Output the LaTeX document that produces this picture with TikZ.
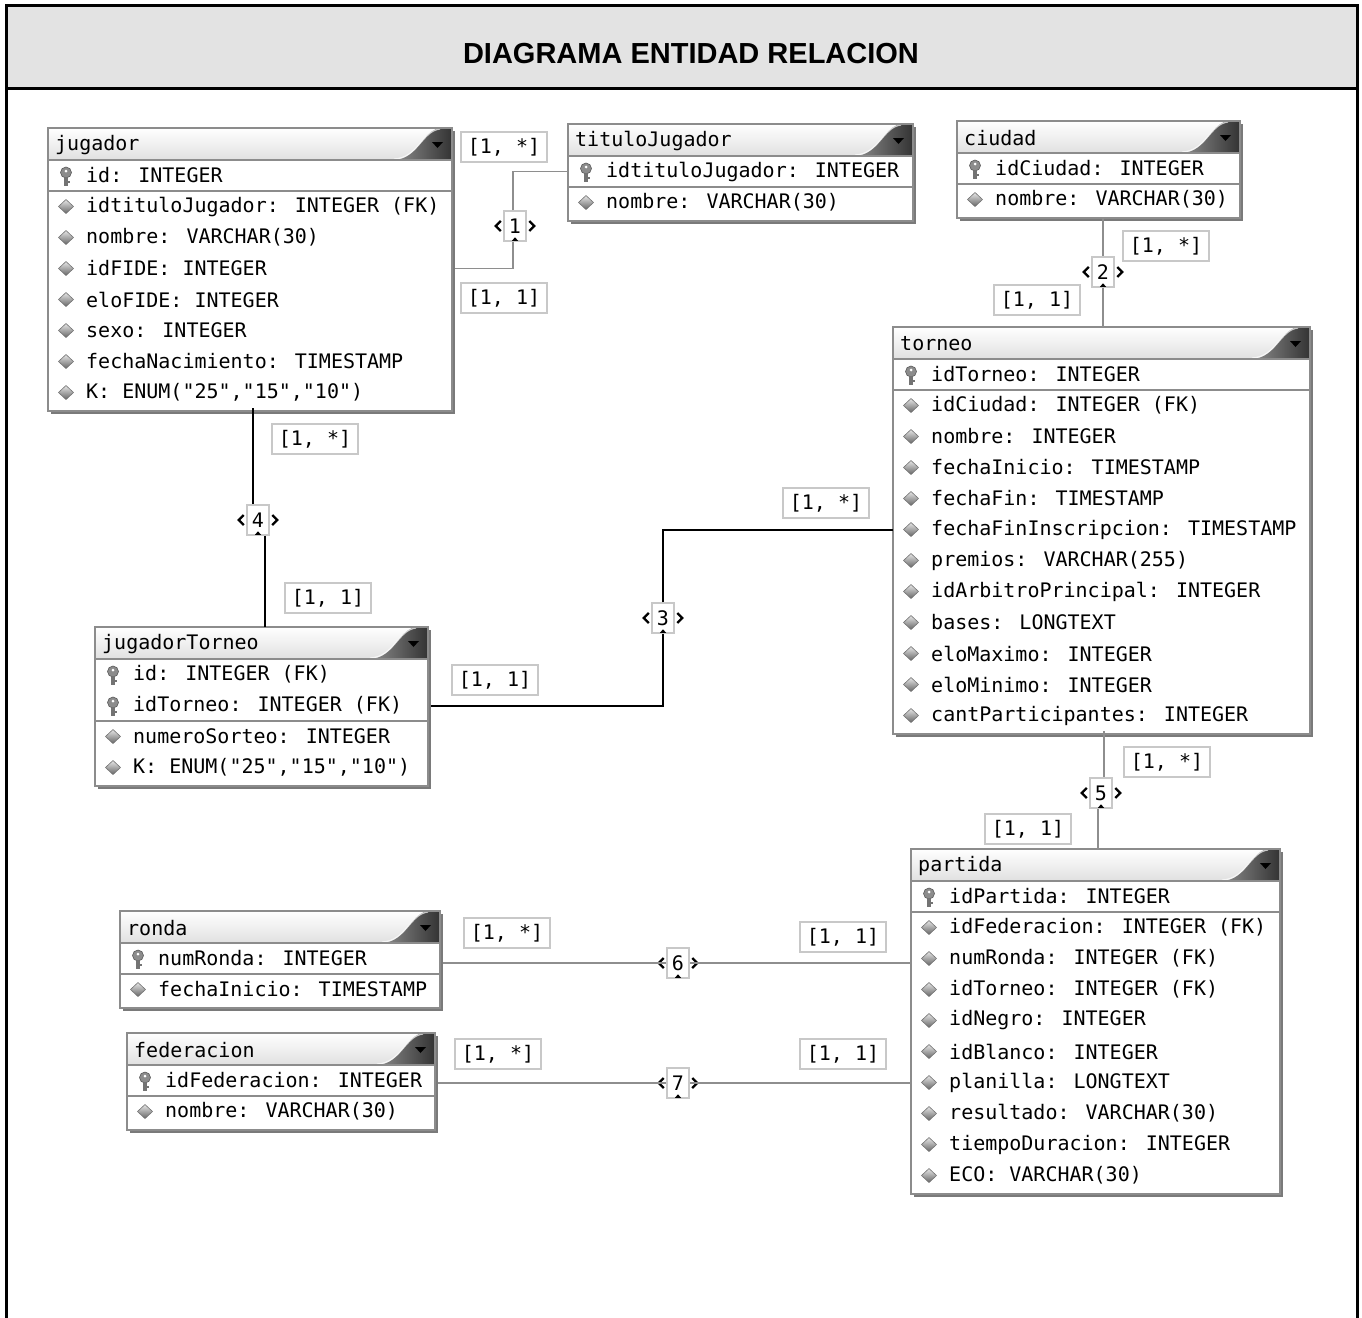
\documentclass[tikz,border=0pt]{standalone}
\usepackage{fontspec}
\setmainfont{Liberation Sans}
\newfontfamily\erfont{DejaVu Sans Mono}
\usetikzlibrary{calc}

\definecolor{framehead}{HTML}{E3E3E3}
\definecolor{tblborder}{HTML}{8C8C8C}
\definecolor{tblshadow}{HTML}{7A7A7A}
\definecolor{lblborder}{HTML}{C8C8C8}
\definecolor{relgray}{HTML}{8E8E8E}

\tikzset{
  erfontsty/.style={font=\erfont\fontsize{20}{24}\selectfont},
  cardbox/.style={erfontsty, draw=lblborder, line width=1.5pt, fill=white,
    minimum width=86pt, minimum height=30pt, inner sep=0pt},
  markbox/.style={erfontsty, draw=lblborder, line width=1.5pt, fill=white,
    minimum width=22pt, minimum height=30pt, inner sep=0pt},
  chev/.style={black, line width=2.2pt},
  relthin/.style={relgray, line width=1.5pt},
  relthick/.style={black, line width=2pt},
}

% #1 name, #2 left, #3 top, #4 width, #5 key rows, #6 rows, #7 title, #8 row texts
\newcommand\ertable[8]{%
  \pgfmathsetmacro\tbot{#3+32+31*#6+3}
  \fill[tblshadow] (#2+3,#3+3) rectangle (#2+#4+3,\tbot+3);
  \node[fill=white, minimum width=#4pt, minimum height={\tbot-#3}, inner sep=0pt,
        anchor=north west] (#1) at (#2,#3) {};
  \shade[top color=white, bottom color=black!12] (#2,#3) rectangle (#2+#4,#3+32);
  \shade[left color=black!45, right color=black!80]
    (#2+#4-58,#3+32) .. controls (#2+#4-34,#3+31) and (#2+#4-30,#3+3) .. (#2+#4-12,#3)
    -- (#2+#4,#3) -- (#2+#4,#3+32) -- cycle;
  \draw[white, line width=1.2pt, opacity=.7]
    (#2+#4-58,#3+31) .. controls (#2+#4-34,#3+30) and (#2+#4-30,#3+3) .. (#2+#4-12,#3+1);
  \fill[black] (#2+#4-20,#3+14) -- ++(11,0) -- ++(-5.5,6) -- cycle;
  \node[erfontsty, anchor=west, inner sep=0pt] (#1-title) at (#2+7,#3+17) {#7};
  \draw[tblborder, line width=1.2pt] (#2,#3+32) -- (#2+#4,#3+32);
  \draw[tblborder, line width=1.2pt] (#2,#3+32+31*#5) -- (#2+#4,#3+32+31*#5);
  \foreach \rowtext [count=\i from 0] in {#8} {
    \pgfmathsetmacro\yy{#3+32+15.5+31*\i}
    \coordinate (#1-\i) at (#2,\yy);
    \ifnum\i<#5\relax
      % key icon
      \fill[black!45, draw=black!65, line width=.6pt]
        (#2+18,\yy-3) ellipse (5.5pt and 5.5pt);
      \fill[white] (#2+18,\yy-4.5) circle (1.5pt);
      \fill[black!55] (#2+16.3,\yy+2) rectangle (#2+19.7,\yy+10);
      \fill[black!55] (#2+19.7,\yy+5.5) rectangle (#2+22,\yy+7);
    \else
      % attribute icon
      \shade[top color=black!10, bottom color=black!60, draw=black!55, line width=.6pt]
        (#2+10.5,\yy) -- (#2+18,\yy-7) -- (#2+25.5,\yy) -- (#2+18,\yy+7) -- cycle;
    \fi
    \node[erfontsty, anchor=west, inner sep=0pt] at (#2+38,\yy) {\rowtext};
  }
  \draw[tblborder, line width=1.5pt] (#2,#3) rectangle (#2+#4,\tbot);
}

% relationship marker: name, x, y, number
\newcommand\relmark[4]{%
  \node[markbox] (#1) at (#2,#3) {#4};
  \draw[chev] ($(#1.west)+(-2.5pt,-5pt)$) -- ++(-5pt,5pt) -- ++(5pt,5pt);
  \draw[chev] ($(#1.east)+(2.5pt,-5pt)$) -- ++(5pt,5pt) -- ++(-5pt,5pt);
  \fill[black] ($(#1.south)+(-3pt,1pt)$) -- ++(6pt,0) -- ++(-3pt,3.5pt) -- cycle;
}

\begin{document}
\begin{tikzpicture}[x=1pt,y=-1pt]
\useasboundingbox (0,0) rectangle (1362,1317);

% frame and heading
\fill[framehead] (6,5) rectangle (1357,88);
\draw[black, line width=3pt] (6,1325) -- (6,5) -- (1357,5) -- (1357,1325);
\draw[black, line width=3pt] (6,88) -- (1357,88);
\node[font=\bfseries\fontsize{29}{34}\selectfont] (title) at (691,54) {DIAGRAMA ENTIDAD RELACION};

% entities
\ertable{jugador}{48}{128}{404}{1}{8}{jugador}{%
  {id: INTEGER},{idtituloJugador: INTEGER (FK)},{nombre: VARCHAR(30)},
  {idFIDE: INTEGER},{eloFIDE: INTEGER},{sexo: INTEGER},
  {fechaNacimiento: TIMESTAMP},{K: ENUM("25","15","10")}}
\ertable{tituloJugador}{568}{124}{345}{1}{2}{tituloJugador}{%
  {idtituloJugador: INTEGER},{nombre: VARCHAR(30)}}
\ertable{ciudad}{957}{121}{283}{1}{2}{ciudad}{%
  {idCiudad: INTEGER},{nombre: VARCHAR(30)}}
\ertable{torneo}{893}{327}{417}{1}{12}{torneo}{%
  {idTorneo: INTEGER},{idCiudad: INTEGER (FK)},{nombre: INTEGER},
  {fechaInicio: TIMESTAMP},{fechaFin: TIMESTAMP},{fechaFinInscripcion: TIMESTAMP},
  {premios: VARCHAR(255)},{idArbitroPrincipal: INTEGER},{bases: LONGTEXT},
  {eloMaximo: INTEGER},{eloMinimo: INTEGER},{cantParticipantes: INTEGER}}
\ertable{jugadorTorneo}{95}{627}{333}{2}{4}{jugadorTorneo}{%
  {id: INTEGER (FK)},{idTorneo: INTEGER (FK)},{numeroSorteo: INTEGER},
  {K: ENUM("25","15","10")}}
\ertable{ronda}{120}{911}{320}{1}{2}{ronda}{%
  {numRonda: INTEGER},{fechaInicio: TIMESTAMP}}
\ertable{federacion}{127}{1033}{308}{1}{2}{federacion}{%
  {idFederacion: INTEGER},{nombre: VARCHAR(30)}}
\ertable{partida}{911}{849}{369}{1}{10}{partida}{%
  {idPartida: INTEGER},{idFederacion: INTEGER (FK)},{numRonda: INTEGER (FK)},
  {idTorneo: INTEGER (FK)},{idNegro: INTEGER},{idBlanco: INTEGER},
  {planilla: LONGTEXT},{resultado: VARCHAR(30)},{tiempoDuracion: INTEGER},
  {ECO: VARCHAR(30)}}

% relationship markers
\relmark{m1}{515}{226}{1}
\relmark{m2}{1103}{272}{2}
\relmark{m3}{663}{618}{3}
\relmark{m4}{258}{520}{4}
\relmark{m5}{1101}{793}{5}
\relmark{m6}{678}{963}{6}
\relmark{m7}{678}{1083}{7}

% connectors
\draw[relthin] ([xshift=3pt]jugador.east |- jugador-3) -| (m1.south -| {(513,0)});
\draw[relthin] (m1.north -| {(513,0)}) |- (tituloJugador.west |- tituloJugador-0);
\draw[relthin] (ciudad.south -| m2) -- (m2.north);
\draw[relthin] (m2.south) -- (torneo.north -| m2);
\draw[relthick] ([xshift=3pt]jugadorTorneo.east |- jugadorTorneo-1) -| (m3.south);
\draw[relthick] (m3.north) |- (torneo.west |- torneo-5);
\draw[relthick] ([yshift=3pt]jugador.south -| {(253,0)}) -- (m4.north -| {(253,0)});
\draw[relthick] (m4.south -| {(265,0)}) -- (jugadorTorneo.north -| {(265,0)});
\draw[relthin] ([yshift=3pt]torneo.south -| {(1104,0)}) -- (m5.north -| {(1104,0)});
\draw[relthin] (m5.south -| {(1098,0)}) -- (partida.north -| {(1098,0)});
\draw[relthin] ([xshift=3pt]ronda.east |- m6) -- (m6.west);
\draw[relthin] (m6.east) -- (partida.west |- m6);
\draw[relthin] ([xshift=3pt]federacion.east |- m7) -- (m7.west);
\draw[relthin] (m7.east) -- (partida.west |- m7);

% cardinalities
\node[cardbox] (c1a) at (504,147) {[1, *]};
\node[cardbox] (c1b) at (504,298) {[1, 1]};
\node[cardbox] (c2a) at (1166,246) {[1, *]};
\node[cardbox] (c2b) at (1037,300) {[1, 1]};
\node[cardbox] (c3a) at (826,503) {[1, *]};
\node[cardbox] (c3b) at (495,680) {[1, 1]};
\node[cardbox] (c4a) at (315,439) {[1, *]};
\node[cardbox] (c4b) at (328,598) {[1, 1]};
\node[cardbox] (c5a) at (1167,762) {[1, *]};
\node[cardbox] (c5b) at (1028,829) {[1, 1]};
\node[cardbox] (c6a) at (507,933) {[1, *]};
\node[cardbox] (c6b) at (843,937) {[1, 1]};
\node[cardbox] (c7a) at (498,1054) {[1, *]};
\node[cardbox] (c7b) at (843,1054) {[1, 1]};
\end{tikzpicture}
\end{document}
